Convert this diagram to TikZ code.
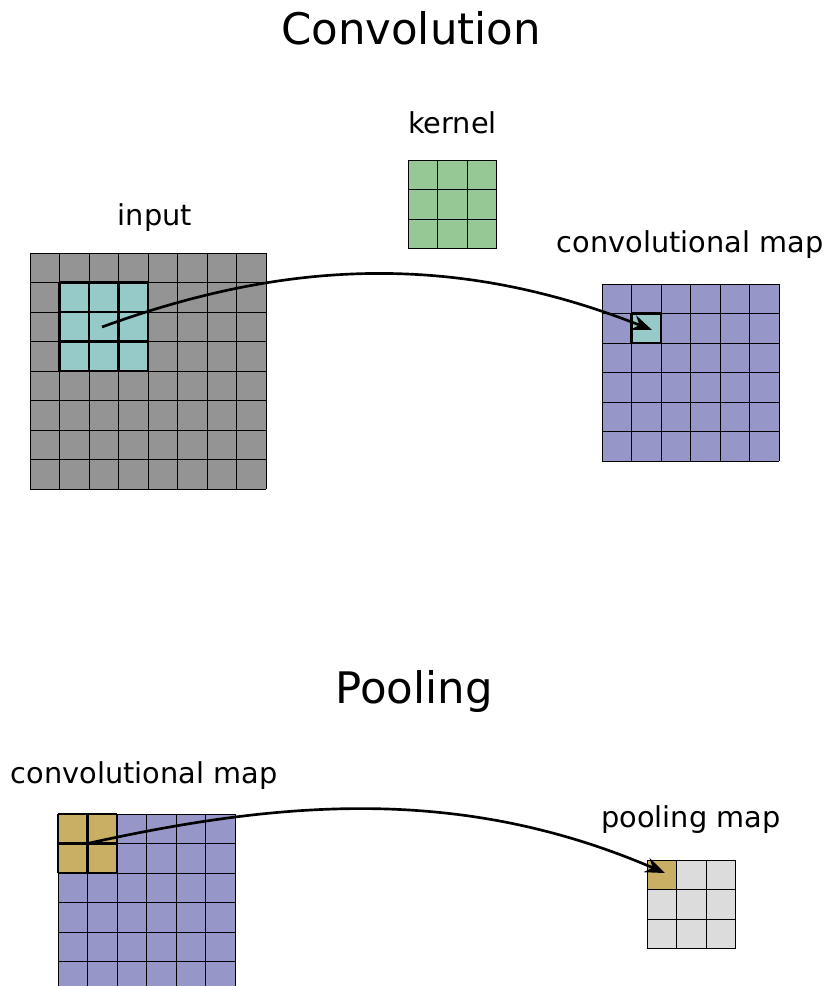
\documentclass[tikz,border=0pt]{standalone}
\usepackage{fontspec}
\setmainfont{DejaVu Sans}
\usetikzlibrary{arrows.meta}

\definecolor{inputgray}{RGB}{148,148,148}
\definecolor{winteal}{RGB}{150,202,200}
\definecolor{mappurple}{RGB}{150,150,200}
\definecolor{kerngreen}{RGB}{150,200,150}
\definecolor{poolgold}{RGB}{200,175,100}
\definecolor{poolgray}{RGB}{220,220,220}

% cell size of every grid
\def\cs{29.5}

% \cellpatch{x0}{y0}{cols}{rows}{fill}{line style}
\newcommand{\cellpatch}[6]{%
  \fill[#5] (#1,#2) rectangle ({#1+#3*\cs},{#2+#4*\cs});
  \foreach \i in {0,...,#3}
    \draw[#6] ({#1+\i*\cs},#2) -- ({#1+\i*\cs},{#2+#4*\cs});
  \foreach \j in {0,...,#4}
    \draw[#6] (#1,{#2+\j*\cs}) -- ({#1+#3*\cs},{#2+\j*\cs});
}

\begin{document}
\begin{tikzpicture}[x=0.75pt,y=-0.75pt,
  thin grid/.style={black,line width=0.75pt},
  thick grid/.style={black,line width=1.6pt},
  label text/.style={inner sep=0pt,anchor=base,font=\fontsize{21.6}{26}\selectfont},
  title text/.style={inner sep=0pt,anchor=base,font=\fontsize{32.6}{40}\selectfont},
  flow/.style={black,line width=2pt,-{Stealth[length=15pt,width=11.5pt]}}]

\useasboundingbox (0,0) rectangle (830,986);
\clip (0,0) rectangle (830,986);

% ---------------- Convolution ----------------
\node[title text] (convtitle) at (411,44) {Convolution};

\node[label text] (inputlbl) at (155,225) {input};
\node[label text] (kernellbl) at (452.5,133) {kernel};
\node[label text] (convmaplbl) at (690,252) {convolutional map};

% input 8x8
\cellpatch{30}{253}{8}{8}{inputgray}{thin grid}
% 3x3 window on the input
\cellpatch{59.5}{282.5}{3}{3}{winteal}{thick grid}

% kernel 3x3
\cellpatch{408}{160}{3}{3}{kerngreen}{thin grid}

% convolutional map 6x6
\cellpatch{602}{284}{6}{6}{mappurple}{thin grid}
\cellpatch{631.5}{313.5}{1}{1}{winteal}{thick grid}

\coordinate (convsrc) at (102,327);
\coordinate (convdst) at (652,330);
\draw[flow] (convsrc) .. controls (280,262) and (450,250) .. (convdst);

% ---------------- Pooling ----------------
\node[title text] (pooltitle) at (414,703) {Pooling};

\node[label text] (poolinlbl) at (144,783) {convolutional map};
\node[label text] (poolmaplbl) at (691,827) {pooling map};

% convolutional map 6x6
\cellpatch{58}{814}{6}{6}{mappurple}{thin grid}
% 2x2 pooling window
\cellpatch{58}{814}{2}{2}{poolgold}{thick grid}

% pooling map 3x3
\cellpatch{647}{860}{3}{3}{poolgray}{thin grid}
\cellpatch{647}{860}{1}{1}{poolgold}{thin grid}

\coordinate (poolsrc) at (87.5,843.5);
\coordinate (pooldst) at (665,873);
\draw[flow] (poolsrc) .. controls (288,799) and (465,787) .. (pooldst);

\end{tikzpicture}
\end{document}
